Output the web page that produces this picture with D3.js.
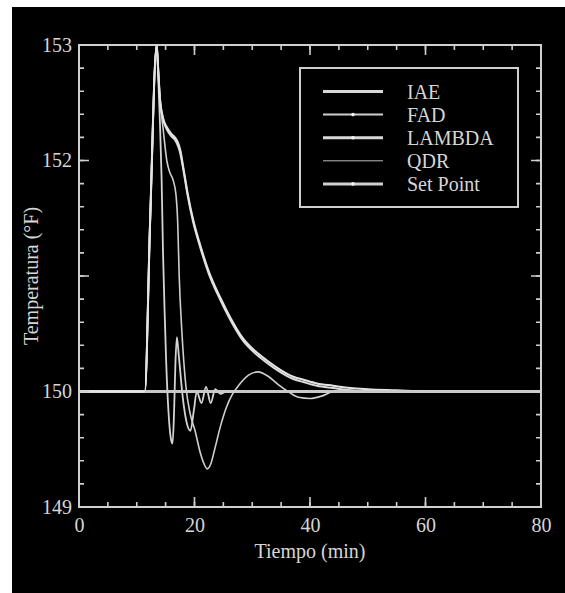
<!DOCTYPE html>
<html>
<head>
<meta charset="utf-8">
<script src="https://cdn.jsdelivr.net/npm/d3@7"></script>
<style>
  body { margin: 0; background: #fff; }
  svg text { font-family: "Liberation Serif", "DejaVu Serif", serif; fill: #d6d6d6; }
</style>
</head>
<body>
<script>

// Data (time in min, temperature in °F)

var seriesNames = ["IAE", "FAD", "LAMBDA", "QDR", "Set Point"];

// common start: flat at 150, then the disturbance spike up to 153
var startT = [0, 11.4, 12.3, 13.45];
var startY = [150, 150, 151.45, 153];

var lambdaT = [13.7, 14.0, 14.6, 15.2, 16.0, 16.6, 17.1, 17.5, 18.1, 18.8, 19.8, 20.8, 22.4, 24.4, 26.1, 28.4, 30.5, 32.5, 34.8, 37, 39, 41.2, 44, 47, 50, 55, 60, 80];
var lambdaY = [152.8, 152.55, 152.36, 152.29, 152.23, 152.2, 152.16, 152.1, 151.93, 151.72, 151.48, 151.3, 151.05, 150.82, 150.65, 150.46, 150.35, 150.27, 150.19, 150.13, 150.1, 150.07, 150.05, 150.03, 150.02, 150.01, 150, 150];

var iaeT = [13.7, 14.0, 14.6, 15.2, 16.0, 16.6, 17.1, 17.5, 18.1, 18.8, 19.8, 20.8, 22.4, 24.4, 26.1, 28.4, 30.5, 32.5, 34.8, 37, 39, 41.2, 44, 47, 50, 80];
var iaeY = [152.8, 152.54, 152.35, 152.27, 152.21, 152.18, 152.13, 152.07, 151.91, 151.7, 151.46, 151.28, 151.03, 150.8, 150.63, 150.44, 150.33, 150.25, 150.17, 150.11, 150.08, 150.05, 150.03, 150.01, 150, 150];

var qdrT = [13.7, 14.0, 14.6, 15.2, 15.7, 16.3, 16.8, 17.1, 17.35, 17.8, 18.5, 19.2, 20.1, 21.0, 21.6, 22.2, 22.8, 23.5, 24.5, 25.5, 26.5, 27.6, 29.3, 31.0, 32.8, 34.5, 36.2, 38.0, 40.0, 42.0, 44.0, 46, 50, 80];
var qdrY = [152.8, 152.55, 152.26, 152.0, 151.9, 151.83, 151.7, 151.45, 151.0, 150.53, 150.05, 149.82, 149.66, 149.47, 149.38, 149.33, 149.37, 149.5, 149.7, 149.86, 149.97, 150.05, 150.14, 150.17, 150.13, 150.06, 150.0, 149.95, 149.94, 149.96, 150.0, 150.01, 150, 150];

var fadT = [13.7, 14.0, 14.3, 14.55, 14.85, 15.1, 15.5, 16.0, 16.2, 16.45, 16.7, 16.95, 17.3, 17.9, 18.6, 19.3, 19.9, 20.4, 21.2, 22.0, 22.8, 23.6, 24.5, 25.5, 80];
var fadY = [152.75, 152.35, 151.85, 151.2, 150.65, 150.25, 149.82, 149.57, 149.55, 149.8, 150.25, 150.47, 150.3, 149.98, 149.74, 149.66, 149.84, 150.0, 149.9, 150.04, 149.9, 150.02, 149.98, 150, 150];

var setPointT = [0, 80];
var setPointY = [150, 150];

var xTicksMajor = [0, 20, 40, 60, 80];
var yTicksMajor = [149, 150, 151, 152, 153];
var yTickLabels = ["149", "150", "", "152", "153"];

// SVG + black background

var svg = d3.select("body").append("svg").attr("width", 565).attr("height", 593);

svg.append("rect").attr("x", 12).attr("y", 7).attr("width", 553).attr("height", 586).attr("fill", "black");

var pLeft = 79, pRight = 541, pTop = 45, pBottom = 507;

var x = d3.scaleLinear().domain([0, 80]).range([pLeft, pRight]);
var y = d3.scaleLinear().domain([149, 153]).range([pBottom, pTop]);

// curves

svg.append("clipPath").attr("id", "plot-clip").append("rect")
    .attr("x", pLeft).attr("y", pTop).attr("width", pRight - pLeft).attr("height", pBottom - pTop);

var plot = svg.append("g").attr("clip-path", "url(#plot-clip)");

var line = d3.line()
    .x(function (d) { return x(d[0]); })
    .y(function (d) { return y(d[1]); })
    .curve(d3.curveMonotoneX);

function pts(ts, ys, withStart) {
    var t = withStart ? startT.concat(ts) : ts;
    var v = withStart ? startY.concat(ys) : ys;
    return t.map(function (d, i) { return [d, v[i]]; });
}

plot.append("path").attr("d", line(pts(setPointT, setPointY, false)))
    .attr("fill", "none").attr("stroke", "#c4c4c4").attr("stroke-width", 3);

// markers of the set point series show as a dotted look left of the spike
plot.append("path").attr("d", line(pts(setPointT, setPointY, false)))
    .attr("fill", "none").attr("stroke", "#6a6a6a").attr("stroke-width", 1.2)
    .attr("stroke-dasharray", "2,3");

plot.append("path").attr("d", line(pts(qdrT, qdrY, true)))
    .attr("fill", "none").attr("stroke", "#cfcfcf").attr("stroke-width", 1.6);

plot.append("path").attr("d", line(pts(fadT, fadY, true)))
    .attr("fill", "none").attr("stroke", "#d4d4d4").attr("stroke-width", 1.8);

plot.append("path").attr("d", line(pts(iaeT, iaeY, true)))
    .attr("fill", "none").attr("stroke", "#dcdcdc").attr("stroke-width", 2);

plot.append("path").attr("d", line(pts(lambdaT, lambdaY, true)))
    .attr("fill", "none").attr("stroke", "#e4e4e4").attr("stroke-width", 2);

// settled part drawn again so the set point line looks solid to the right
plot.append("path").attr("d", line([[11.4, 150], [80, 150]]))
    .attr("fill", "none").attr("stroke", "#c8c8c8").attr("stroke-width", 2.4);

// axes: ticks point inwards, minor ticks every 5 min / 0.2 °F

function styleAxis(g) {
    g.select(".domain").remove();
    g.selectAll(".tick text").style("font-size", "20px").attr("fill", "#d6d6d6");
}

var yMinor = d3.range(0, 21).map(function (i) { return 149 + i * 0.2; });
var xMinor = d3.range(0, 81, 5);

// tick labels from the library's axes
svg.append("g").attr("transform", "translate(0," + pBottom + ")")
    .call(d3.axisBottom(x).tickValues(xTicksMajor).tickSize(0).tickPadding(11).tickFormat(d3.format("d")))
    .call(styleAxis);
svg.append("g").attr("transform", "translate(" + pLeft + ",0)")
    .call(d3.axisLeft(y).tickValues(yTicksMajor).tickSize(0).tickPadding(7)
        .tickFormat(function (d, i) { return yTickLabels[i]; }))
    .call(styleAxis);

// tick marks on all four sides, placed with the scales
var tickG = svg.append("g").attr("class", "ticks");

function xTicks(vals, len) {
    tickG.selectAll(null).data(vals).enter().append("path")
        .attr("d", function (d) {
            return "M" + x(d) + "," + pBottom + "V" + (pBottom - len) +
                "M" + x(d) + "," + pTop + "V" + (pTop + len);
        })
        .attr("stroke", "#cfcfcf").attr("stroke-width", 1.6);
}
function yTicks(vals, len) {
    tickG.selectAll(null).data(vals).enter().append("path")
        .attr("d", function (d) {
            return "M" + pLeft + "," + y(d) + "H" + (pLeft + len) +
                "M" + pRight + "," + y(d) + "H" + (pRight - len);
        })
        .attr("stroke", "#cfcfcf").attr("stroke-width", 1.6);
}
xTicks(xMinor, 5);
xTicks(xTicksMajor, 10);
yTicks(yMinor, 5);
yTicks(yTicksMajor, 10);

// plot frame

svg.append("rect").attr("x", pLeft).attr("y", pTop).attr("width", pRight - pLeft).attr("height", pBottom - pTop)
    .attr("fill", "none").attr("stroke", "#d0d0d0").attr("stroke-width", 2);

// axis titles

svg.append("text").attr("x", (pLeft + pRight) / 2).attr("y", 558)
    .attr("text-anchor", "middle").style("font-size", "20px").text("Tiempo (min)");

svg.append("text").attr("transform", "translate(31," + ((pTop + pBottom) / 2) + ") rotate(-90)")
    .attr("text-anchor", "middle").attr("dy", "0.35em").style("font-size", "20px").text("Temperatura (°F)");

// legend

var legendWidths = [3, 2, 3, 1, 3];
var legendMarker = [false, true, true, false, true];
var legendColor = ["#d8d8d8", "#cfcfcf", "#d8d8d8", "#bdbdbd", "#d0d0d0"];

var legend = svg.append("g");
legend.append("rect").attr("x", 300).attr("y", 68).attr("width", 218).attr("height", 139)
    .attr("fill", "black").attr("stroke", "#cfcfcf").attr("stroke-width", 2);

var rows = legend.selectAll("g.row").data(seriesNames).enter().append("g")
    .attr("class", "row")
    .attr("transform", function (d, i) { return "translate(0," + (91.5 + i * 23.1) + ")"; });

rows.append("line").attr("x1", 323).attr("x2", 383).attr("y1", 0).attr("y2", 0)
    .attr("stroke", function (d, i) { return legendColor[i]; })
    .attr("stroke-width", function (d, i) { return legendWidths[i]; });

rows.filter(function (d, i) { return legendMarker[i]; }).append("circle")
    .attr("cx", 353).attr("cy", 0).attr("r", 1.8).attr("fill", "#f2f2f2");

rows.append("text").attr("x", 407).attr("y", 0).attr("dy", "0.35em")
    .style("font-size", "20px").text(function (d) { return d; });

</script>
</body>
</html>
